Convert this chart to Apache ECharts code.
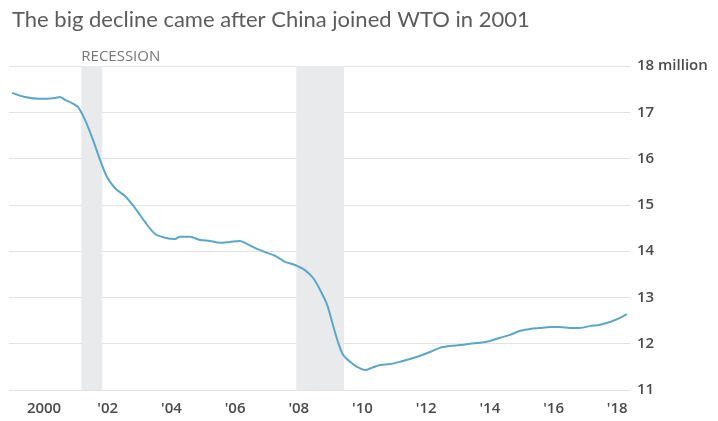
<!DOCTYPE html>
<html>
<head>
<meta charset="utf-8">
<script src="https://cdn.jsdelivr.net/npm/echarts@6/dist/echarts.min.js"></script>
<style>
html,body{margin:0;padding:0;background:#fff;}
#chart{width:718px;height:421px;}
</style>
</head>
<body>
<div id="chart"></div>
<script>
const titleText = "The big decline came after China joined WTO in 2001";
const years = [1999.0,1999.4,1999.87,2000.35,2000.5,2000.66,2000.88,2001.07,2001.29,2001.54,2001.76,2001.98,2002.23,2002.54,2002.86,2003.17,2003.49,2003.8,2004.11,2004.27,2004.58,2004.9,2005.21,2005.53,2005.84,2006.15,2006.31,2006.62,2006.94,2007.25,2007.57,2007.88,2008.19,2008.45,2008.67,2008.89,2009.07,2009.23,2009.39,2009.61,2009.83,2010.08,2010.3,2010.55,2010.86,2011.18,2011.49,2011.81,2012.12,2012.43,2012.75,2013.06,2013.38,2013.69,2014.0,2014.32,2014.63,2014.95,2015.26,2015.57,2015.89,2016.2,2016.51,2016.83,2017.14,2017.46,2017.77,2018.09,2018.3];
const jobs = [17.42,17.33,17.29,17.31,17.33,17.27,17.2,17.11,16.83,16.4,15.97,15.6,15.36,15.19,14.93,14.63,14.37,14.29,14.26,14.31,14.31,14.24,14.22,14.18,14.2,14.22,14.18,14.07,13.98,13.9,13.77,13.7,13.59,13.42,13.16,12.84,12.41,12.04,11.76,11.61,11.5,11.43,11.48,11.54,11.56,11.61,11.67,11.74,11.82,11.91,11.95,11.97,12.0,12.02,12.06,12.13,12.19,12.28,12.32,12.34,12.36,12.36,12.34,12.34,12.38,12.41,12.47,12.56,12.64];
const recessionStart = [2001.17, 2007.92];
const recessionEnd = [2001.83, 2009.42];
const recessionLabel = "RECESSION";
const xTicks = [2000,2002,2004,2006,2008,2010,2012,2014,2016,2018];
const yTicks = [11,12,13,14,15,16,17,18];

const chart = echarts.init(document.getElementById('chart'));
const titleFont = 'Lato, sans-serif';
const font = '"Open Sans", sans-serif';
chart.setOption({
  animation: false,
  title: {
    text: titleText, left: 7, top: 4,
    textStyle: {fontFamily: titleFont, fontSize: 22, fontWeight: 'normal', color: '#5c5c5c'}
  },
  grid: {left: 9, right: 88, top: 66, bottom: 31},
  xAxis: {
    type: 'value', min: 1998.9, max: 2018.4,
    axisLine: {show: false}, axisTick: {show: false}, splitLine: {show: false},
    axisLabel: {
      customValues: xTicks, margin: 11,
      fontFamily: font, fontSize: 15, fontWeight: 600, color: '#4a4a4a',
      formatter: v => v === 2000 ? '2000' : "'" + String(v).slice(2)
    }
  },
  yAxis: {
    type: 'value', position: 'right', min: 11, max: 18, interval: 1,
    axisLine: {show: false}, axisTick: {show: false},
    splitLine: {lineStyle: {color: '#e3e3e3', width: 1}},
    axisLabel: {
      margin: 7, fontFamily: font, fontSize: 15, fontWeight: 600, color: '#4a4a4a',
      formatter: v => v === 18 ? '18 million' : String(v)
    }
  },
  series: [{
    type: 'line', showSymbol: false, smooth: 0.3,
    data: years.map((y, i) => [y, jobs[i]]),
    lineStyle: {color: '#5ba7c7', width: 2},
    itemStyle: {color: '#5ba7c7'},
    z: 3,
    markArea: {
      silent: true,
      itemStyle: {color: '#e9eaec'},
      data: recessionStart.map((s, i) => [
        {xAxis: s, yAxis: 18, label: {show: i === 0, formatter: recessionLabel, position: [0, -17],
          fontFamily: font, fontSize: 15, color: '#777'}},
        {xAxis: recessionEnd[i], yAxis: 11}
      ])
    }
  }]
});
</script>
</body>
</html>
